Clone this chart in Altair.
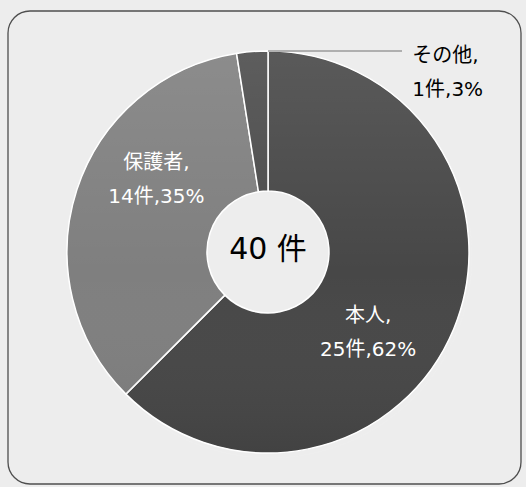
import math
import altair as alt
import pandas as pd

# ---- data ----
categories = ["本人", "保護者", "その他"]
counts = [25, 14, 1]
percents = [62, 35, 3]
slice_colors = ["#474747", "#7f7f7f", "#4b4b4b"]

FONT = "DejaVu Sans, Noto Sans CJK JP"
CX, CY = 268, 252
R_OUT, R_IN = 201, 61

df = pd.DataFrame({
    "category": categories,
    "count": counts,
    "pct": percents,
    "order": list(range(len(categories))),
})
one = pd.DataFrame({"a": [0]})

# frame
frame = alt.Chart(one).mark_rect(
    cornerRadius=22, color="white", fillOpacity=0, stroke="#555555", strokeWidth=1.3
).encode(x=alt.value(8), x2=alt.value(521), y=alt.value(11), y2=alt.value(484))

# soft shadow under the pie
shadow_df = pd.DataFrame({"r": [202, 204, 206, 208, 210]})
shadow = alt.Chart(shadow_df).mark_arc(
    theta=0, theta2=2 * math.pi, color="black", opacity=0.07
).encode(x=alt.value(CX + 2), y=alt.value(CY + 4), radius=alt.Radius("r:Q", scale=None))

base = alt.Chart(df)

pie = base.mark_arc(
    outerRadius=R_OUT, innerRadius=R_IN, stroke="white", strokeWidth=1.5
).encode(
    theta=alt.Theta("count:Q", stack=True),
    order=alt.Order("order:Q"),
    color=alt.Color("category:N", scale=alt.Scale(domain=categories, range=slice_colors), legend=None),
    x=alt.value(CX),
    y=alt.value(CY),
)

sheen = alt.Chart(one).mark_arc(
    theta=0, theta2=2 * math.pi, outerRadius=R_OUT - 1, innerRadius=R_IN,
    fill=alt.LinearGradient(
        gradient="linear",
        stops=[
            alt.GradientStop(color="rgba(255,255,255,0.10)", offset=0),
            alt.GradientStop(color="rgba(255,255,255,0)", offset=0.55),
            alt.GradientStop(color="rgba(0,0,0,0.07)", offset=1),
        ],
        x1=0, x2=0, y1=0, y2=1,
    ),
).encode(x=alt.value(CX), y=alt.value(CY))

lab = base.transform_joinaggregate(total="sum(count)").transform_window(
    cum="sum(count)", sort=[alt.SortField("order")]
).transform_calculate(
    mid="(datum.cum - datum.count / 2) / datum.total * 2 * PI",
    label="datum.category + ',\\n' + datum.count + '件,' + datum.pct + '%'",
)


def label_layer(cat, radius, dx, dy, color, align="center"):
    return lab.transform_filter(alt.datum.category == cat).mark_text(
        radius=radius, dx=dx, dy=dy, color=color, fontSize=20, font=FONT,
        lineBreak="\n", lineHeight=34, align=align, baseline="middle",
    ).encode(
        theta=alt.Theta("mid:Q", scale=None),
        text="label:N",
        x=alt.value(CX),
        y=alt.value(CY),
    )


lab_self = label_layer("本人", 130, -20, 14, "white")
lab_parent = label_layer("保護者", 130, 12, -49, "white")
lab_other = label_layer("その他", 200, 160, 3, "black", align="left")

leader = alt.Chart(one).mark_rule(color="#9a9a9a", strokeWidth=1.3).encode(
    x=alt.value(268), x2=alt.value(402), y=alt.value(51)
)

center = base.transform_aggregate(total="sum(count)").transform_calculate(
    t="datum.total + ' 件'"
).mark_text(fontSize=30, font=FONT, color="black", baseline="middle").encode(
    text="t:N", x=alt.value(CX), y=alt.value(CY - 2)
)

chart = alt.layer(
    frame, shadow, pie, sheen, leader, lab_self, lab_parent, lab_other, center
).properties(
    width=526, height=487, autosize="none", padding=0, background="white"
).configure_view(strokeWidth=0)

chart.save("out.html", embed_options={"renderer": "svg", "actions": False})
